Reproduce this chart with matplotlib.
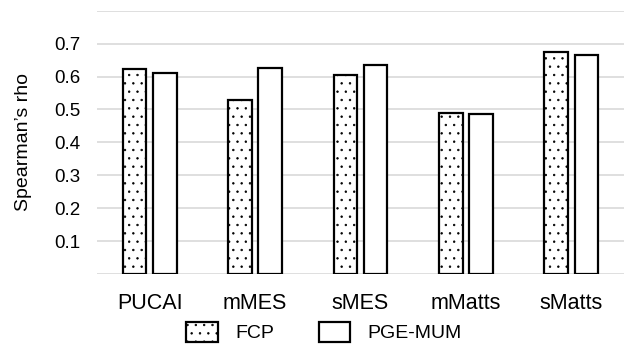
import matplotlib
matplotlib.use("Agg")
import matplotlib.pyplot as plt
import numpy as np

plt.rcParams['font.family'] = ['Liberation Sans', 'DejaVu Sans']
plt.rcParams['hatch.linewidth'] = 0.5

categories = ["PUCAI", "mMES", "sMES", "mMatts", "sMatts"]
fcp = [0.624, 0.530, 0.604, 0.490, 0.675]
pge_mum = [0.610, 0.626, 0.634, 0.486, 0.664]
yticks = [0.0, 0.1, 0.2, 0.3, 0.4, 0.5, 0.6, 0.7, 0.8]
ytick_labels = ["", "0.1", "0.2", "0.3", "0.4", "0.5", "0.6", "0.7", ""]

fig = plt.figure(figsize=(6.24, 3.45), dpi=100)
ax = fig.add_axes([97/624, 1 - 274/345, 1 - 97/624, (274 - 10.7)/345])

x = np.arange(len(categories))
w = 0.225
ax.bar(x - 0.143, fcp, w, color="white", edgecolor="black", linewidth=1.6,
       hatch="..", label="FCP", zorder=3)
ax.bar(x + 0.143, pge_mum, w, color="white", edgecolor="black", linewidth=1.6,
       label="PGE-MUM", zorder=3)

ax.set_xlim(-0.5, len(categories) - 0.5)
ax.set_ylim(0, 0.8)
ax.set_yticks(yticks)
ax.set_yticklabels(ytick_labels, fontsize=13.5)
ax.set_xticks(x)
ax.set_xticklabels(categories, fontsize=15.5)
ax.tick_params(axis="both", length=0)
ax.tick_params(axis="x", pad=14)
ax.tick_params(axis="y", pad=12)
ax.yaxis.grid(True, color="#d9d9d9", linewidth=1.2, zorder=0)
ax.set_axisbelow(True)
for s in ax.spines.values():
    s.set_visible(False)
ax.set_ylabel("Spearman\u2019s rho", fontsize=14, labelpad=16)

fig.legend(loc="center", bbox_to_anchor=(324/624, 1 - 332/345), ncol=2,
           frameon=False, fontsize=14, handlelength=1.6, handleheight=1.2,
           handletextpad=0.9, columnspacing=2.3)

fig.savefig("out.png", dpi=100)
